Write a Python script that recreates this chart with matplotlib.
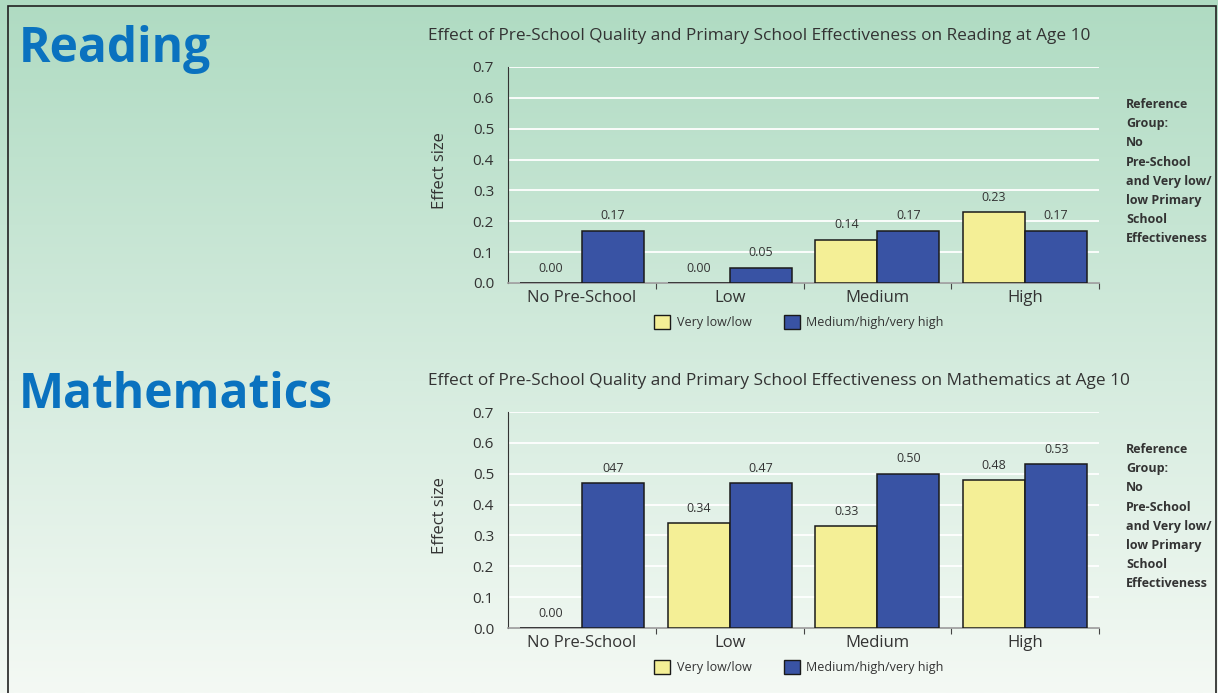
import numpy as np
import matplotlib.pyplot as plt
from matplotlib.patches import Patch, Rectangle
from matplotlib.colors import LinearSegmentedColormap

plt.rcParams['font.family'] = ['Open Sans', 'DejaVu Sans']

# data
categories = ['No Pre-School', 'Low', 'Medium', 'High']
series_names = ['Very low/low', 'Medium/high/very high']

reading_low = [0.00, 0.00, 0.14, 0.23]
reading_high = [0.17, 0.05, 0.17, 0.17]
reading_low_labels = ['0.00', '0.00', '0.14', '0.23']
reading_high_labels = ['0.17', '0.05', '0.17', '0.17']

maths_low = [0.00, 0.34, 0.33, 0.48]
maths_high = [0.47, 0.47, 0.50, 0.53]
maths_low_labels = ['0.00', '0.34', '0.33', '0.48']
maths_high_labels = ['047', '0.47', '0.50', '0.53']

yticks = [0.0, 0.1, 0.2, 0.3, 0.4, 0.5, 0.6, 0.7]
ref_note = "Reference\nGroup:\nNo\nPre-School\nand Very low/\nlow Primary\nSchool\nEffectiveness"

YELLOW = '#f4ef96'
BLUE = '#3953a4'
TEXT = '#333333'
HEAD = '#0a72bf'

W, H = 1218, 693
fig = plt.figure(figsize=(W / 100, H / 100), dpi=100)

# background gradient
bg = fig.add_axes([0, 0, 1, 1], zorder=-10)
cmap = LinearSegmentedColormap.from_list(
    'bg', [(0.0, '#f4f9f4'), (0.45, '#d6ecdf'), (1.0, '#afdbc2')])
grad = np.linspace(0, 1, 256).reshape(-1, 1)
bg.imshow(grad, cmap=cmap, aspect='auto', extent=[0, 1, 0, 1], origin='lower')
bg.set_xlim(0, 1)
bg.set_ylim(0, 1)
bg.axis('off')
bg.add_patch(Rectangle((8 / W, -0.05), (1216 - 8) / W, 1.05 - 6 / H,
                       fill=False, ec='#222222', lw=1.2,
                       transform=bg.transAxes, clip_on=False))


def fx(px):
    return px / W


def fy(py):
    return 1 - py / H


def panel(top, heading, title, low, high, low_labels, high_labels):
    # top = pixel y of the 0.7 line
    bottom = top + 216
    ax = fig.add_axes([fx(508), fy(bottom), fx(1099) - fx(508),
                       (bottom - top) / H])
    ax.set_facecolor('none')
    x = np.arange(len(categories)) + 0.5
    bw = 0.42
    ax.bar(x - bw / 2, low, bw, color=YELLOW, edgecolor='#1a1a1a', lw=1.1,
           zorder=3)
    ax.bar(x + bw / 2, high, bw, color=BLUE, edgecolor='#1a1a1a', lw=1.1,
           zorder=3)
    for xi, v, s in zip(x - bw / 2, low, low_labels):
        ax.annotate(s, (xi, v), xytext=(0, 6), textcoords='offset points',
                    ha='center', va='bottom', fontsize=9, color=TEXT)
    for xi, v, s in zip(x + bw / 2, high, high_labels):
        ax.annotate(s, (xi, v), xytext=(0, 6), textcoords='offset points',
                    ha='center', va='bottom', fontsize=9, color=TEXT)

    ax.set_xlim(0, len(categories))
    ax.set_ylim(0, 0.7)
    ax.set_yticks(yticks)
    ax.set_yticklabels([f'{t:.1f}' for t in yticks])
    ax.yaxis.grid(True, color='white', lw=1.3, zorder=0)
    ax.set_axisbelow(True)
    ax.set_xticks(np.arange(1, len(categories) + 1))
    ax.set_xticklabels([])
    ax.set_xticks(x, minor=True)
    ax.set_xticklabels(categories, minor=True)
    ax.tick_params(axis='x', which='major', length=4, color='#444444',
                   direction='out')
    ax.tick_params(axis='x', which='minor', length=0, labelsize=12,
                   labelcolor=TEXT, pad=5)
    ax.tick_params(axis='y', length=0, labelsize=11, labelcolor=TEXT, pad=10)
    for s in ['top', 'right']:
        ax.spines[s].set_visible(False)
    ax.spines['left'].set_color('#333333')
    ax.spines['bottom'].set_color('#9a9a9a')
    ax.spines['bottom'].set_linewidth(1.2)

    fig.text(fx(440), fy(top + 104), 'Effect size', rotation=90,
             ha='center', va='center', fontsize=12, color=TEXT)
    fig.text(fx(428), fy(top - 31), title, ha='left', va='center',
             fontsize=12.4, color=TEXT)
    fig.text(fx(19), fy(top - 17), heading, ha='left', va='center',
             fontsize=34.5, fontweight='bold', color=HEAD)
    fig.text(fx(1126), fy(top + 31), ref_note, ha='left', va='top',
             fontsize=9, fontweight='bold', color=TEXT, linespacing=1.62)

    handles = [Patch(facecolor=YELLOW, edgecolor='#1a1a1a', label=series_names[0]),
               Patch(facecolor=BLUE, edgecolor='#1a1a1a', label=series_names[1])]
    fig.legend(handles=handles, loc='center', ncol=2, frameon=False,
               bbox_to_anchor=(fx(799), fy(bottom + 39)), fontsize=9,
               handlelength=1.3, handleheight=1.3, handletextpad=0.5,
               columnspacing=2.6, labelcolor=TEXT)
    return ax


panel(67, 'Reading',
      'Effect of Pre-School Quality and Primary School Effectiveness on Reading at Age 10',
      reading_low, reading_high, reading_low_labels, reading_high_labels)
panel(412, 'Mathematics',
      'Effect of Pre-School Quality and Primary School Effectiveness on Mathematics at Age 10',
      maths_low, maths_high, maths_low_labels, maths_high_labels)

fig.savefig('out.png', dpi=100)
